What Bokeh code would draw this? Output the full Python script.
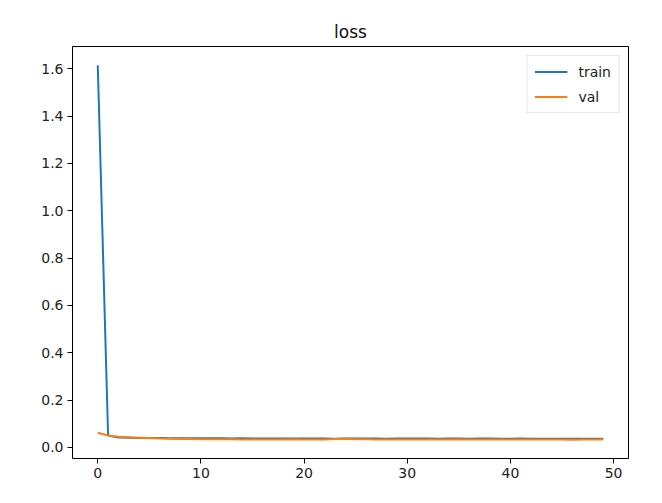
from bokeh.plotting import figure
from bokeh.models import Range1d, FixedTicker, CustomJSTickFormatter, Legend, LegendItem
from bokeh.embed import file_html
from bokeh.resources import INLINE

epochs = list(range(50))
train_loss = [1.615, 0.050, 0.042, 0.041, 0.040, 0.039, 0.039, 0.038, 0.038, 0.038,
              0.038, 0.038, 0.038, 0.037, 0.038, 0.037, 0.037, 0.037, 0.037, 0.037,
              0.037, 0.037, 0.037, 0.036, 0.037, 0.037, 0.037, 0.037, 0.036, 0.037,
              0.037, 0.037, 0.037, 0.036, 0.037, 0.037, 0.036, 0.037, 0.037, 0.036,
              0.036, 0.037, 0.036, 0.036, 0.036, 0.036, 0.036, 0.036, 0.036, 0.036]
val_loss = [0.062, 0.050, 0.045, 0.043, 0.041, 0.039, 0.037, 0.036, 0.035, 0.035,
            0.034, 0.034, 0.034, 0.034, 0.033, 0.033, 0.033, 0.033, 0.033, 0.034,
            0.033, 0.033, 0.033, 0.035, 0.036, 0.034, 0.034, 0.033, 0.033, 0.033,
            0.033, 0.033, 0.033, 0.033, 0.033, 0.034, 0.033, 0.033, 0.033, 0.033,
            0.033, 0.033, 0.033, 0.033, 0.033, 0.033, 0.032, 0.033, 0.033, 0.033]
x_ticks = [0, 10, 20, 30, 40, 50]
y_ticks = [0.0, 0.2, 0.4, 0.6, 0.8, 1.0, 1.2, 1.4, 1.6]
title_text = "loss"

xmin, xmax = min(epochs), max(epochs)
xm = 0.05 * (xmax - xmin)
allv = train_loss + val_loss
ymin, ymax = min(allv), max(allv)
ym = 0.05 * (ymax - ymin)

p = figure(width=654, height=495, output_backend="svg", toolbar_location=None,
           x_range=Range1d(xmin - xm, xmax + xm), y_range=Range1d(ymin - ym, ymax + ym),
           min_border_left=72, min_border_right=26, min_border_top=46, min_border_bottom=37,
           frame_width=556, frame_height=412)

p.title.text = title_text
p.title.align = "center"
p.title.text_font = "DejaVu Sans"
p.title.text_font_size = "17px"
p.title.text_font_style = "normal"
p.title.text_color = "#111111"
p.title.offset = 0
p.title.standoff = 9

p.xgrid.visible = False
p.ygrid.visible = False
p.outline_line_color = "black"
p.outline_line_width = 1
p.outline_line_alpha = 1

for ax in (p.xaxis[0], p.yaxis[0]):
    ax.axis_line_color = None
    ax.major_tick_out = 5
    ax.major_tick_in = 0
    ax.minor_tick_line_color = None
    ax.major_tick_line_color = "black"
    ax.major_label_text_font = "DejaVu Sans"
    ax.major_label_text_font_size = "14px"
    ax.major_label_text_color = "#222222"
    ax.major_label_standoff = 4

p.xaxis.ticker = FixedTicker(ticks=x_ticks)
p.yaxis.ticker = FixedTicker(ticks=y_ticks)
p.yaxis.formatter = CustomJSTickFormatter(code="return tick.toFixed(1);")

r1 = p.line(epochs, train_loss, line_color="#1f77b4", line_width=2)
r2 = p.line(epochs, val_loss, line_color="#ff7f0e", line_width=2)

legend = Legend(items=[LegendItem(label="train", renderers=[r1]),
                       LegendItem(label="val", renderers=[r2])],
                location="top_right")
legend.label_text_font = "DejaVu Sans"
legend.label_text_font_size = "14px"
legend.label_text_color = "#222222"
legend.border_line_color = "#cccccc"
legend.border_line_width = 1
legend.background_fill_alpha = 0.8
legend.glyph_width = 33
legend.glyph_height = 17
legend.label_height = 17
legend.label_standoff = 11
legend.padding = 7
legend.spacing = 8
legend.margin = 9
p.add_layout(legend)

open("out.html", "w").write(file_html(p, INLINE))
